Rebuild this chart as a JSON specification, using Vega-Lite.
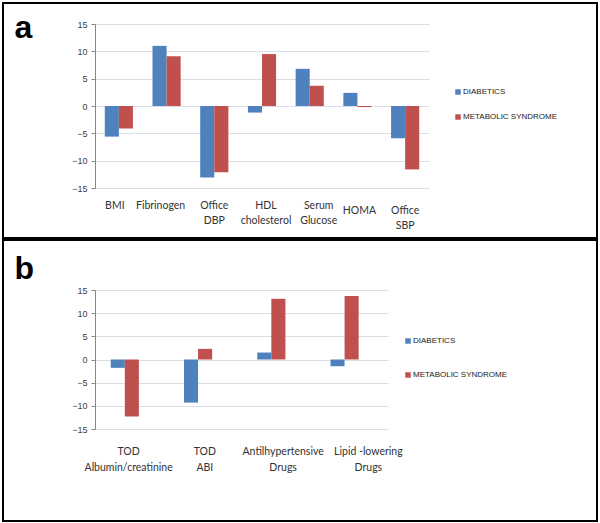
{
  "$schema": "https://vega.github.io/schema/vega-lite/v6.json",
  "padding": {"left": 2, "top": 2, "right": 2, "bottom": 2},
  "background": "white",
  "spacing": 0,
  "resolve": {"scale": {"color": "independent"}, "legend": {"color": "independent"}},
  "datasets": {
    "a": [
      {"category": "BMI", "group": "DIABETICS", "value": -5.6},
      {"category": "BMI", "group": "METABOLIC SYNDROME", "value": -4.1},
      {"category": "Fibrinogen", "group": "DIABETICS", "value": 11.0},
      {"category": "Fibrinogen", "group": "METABOLIC SYNDROME", "value": 9.1},
      {"category": "Office|DBP", "group": "DIABETICS", "value": -13.1},
      {"category": "Office|DBP", "group": "METABOLIC SYNDROME", "value": -12.1},
      {"category": "HDL|cholesterol", "group": "DIABETICS", "value": -1.2},
      {"category": "HDL|cholesterol", "group": "METABOLIC SYNDROME", "value": 9.5},
      {"category": "Serum|Glucose", "group": "DIABETICS", "value": 6.8},
      {"category": "Serum|Glucose", "group": "METABOLIC SYNDROME", "value": 3.7},
      {"category": "HOMA", "group": "DIABETICS", "value": 2.4},
      {"category": "HOMA", "group": "METABOLIC SYNDROME", "value": -0.2},
      {"category": "Office|SBP", "group": "DIABETICS", "value": -5.9},
      {"category": "Office|SBP", "group": "METABOLIC SYNDROME", "value": -11.6}
    ],
    "b": [
      {"category": "TOD|Albumin/creatinine", "group": "DIABETICS", "value": -1.8},
      {"category": "TOD|Albumin/creatinine", "group": "METABOLIC SYNDROME", "value": -12.3},
      {"category": "TOD|ABI", "group": "DIABETICS", "value": -9.3},
      {"category": "TOD|ABI", "group": "METABOLIC SYNDROME", "value": 2.3},
      {"category": "Antilhypertensive|Drugs", "group": "DIABETICS", "value": 1.5},
      {"category": "Antilhypertensive|Drugs", "group": "METABOLIC SYNDROME", "value": 13.1},
      {"category": "Lipid -lowering|Drugs", "group": "DIABETICS", "value": -1.45},
      {"category": "Lipid -lowering|Drugs", "group": "METABOLIC SYNDROME", "value": 13.7}
    ]
  },
  "vconcat": [
    {
      "width": 594,
      "height": 235,
      "data": {"name": "a"},
      "mark": {"type": "bar"},
      "encoding": {
        "x": {
          "field": "category", "type": "nominal", "sort": null,
          "scale": {"range": [92, 426], "paddingInner": 0.41, "paddingOuter": 0.205},
          "axis": {"orient": "bottom", "offset": -50, "domain": false, "ticks": false, "grid": false,
            "labelPadding": {"condition": [{"test": "datum.value == 'HOMA'", "value": 17}, {"test": "datum.value == 'Office|SBP'", "value": 17}], "value": 12},
            "labelOffset": {"condition": [{"test": "datum.value == 'BMI'", "value": -4}, {"test": "datum.value == 'Fibrinogen'", "value": -6}, {"test": "datum.value == 'HDL|cholesterol'", "value": 4}, {"test": "datum.value == 'Serum|Glucose'", "value": 9}, {"test": "datum.value == 'HOMA'", "value": 2}], "value": 0},
            "labelAngle": 0, "labelExpr": "split(datum.label, '|')", "labelFont": "Lato", "labelFontSize": 10.5, "labelLineHeight": 15, "labelColor": "#333333", "labelOverlap": false, "labelBaseline": "top", "title": null}
        },
        "xOffset": {"field": "group", "type": "nominal", "sort": null, "scale": {"paddingInner": 0, "paddingOuter": 0}},
        "y": {
          "field": "value", "type": "quantitative",
          "scale": {"domain": [-15, 15], "range": [185, 21], "nice": false},
          "axis": {"orient": "left", "offset": -92, "values": [-15, -10, -5, 0, 5, 10, 15], "grid": true, "gridColor": "#D9DEE8", "gridWidth": 1, "domainColor": "#868686", "tickColor": "#868686", "tickSize": 4, "labelFont": "Liberation Sans", "labelFontSize": 9, "labelColor": "#404040", "labelPadding": 4,
            "title": "a", "titleX": -81, "titleY": 34, "titleAngle": 0, "titleAlign": "left", "titleBaseline": "alphabetic", "titleFont": "Liberation Sans", "titleFontSize": 32, "titleFontWeight": "bold", "titleColor": "black"}
        },
        "color": {
          "field": "group", "type": "nominal",
          "scale": {"domain": ["DIABETICS", "METABOLIC SYNDROME"], "range": ["#4F81BD", "#C0504D"]},
          "legend": {"orient": "none", "legendX": 451, "legendY": 85, "title": null, "symbolType": "square", "symbolSize": 30, "symbolStrokeWidth": 0, "labelFont": "Liberation Sans", "labelFontSize": 8, "labelColor": "#222222", "labelOffset": 1, "rowPadding": 17}
        }
      }
    },
    {
      "width": 594,
      "height": 281,
      "data": {"name": "b"},
      "mark": {"type": "bar"},
      "encoding": {
        "x": {
          "field": "category", "type": "nominal", "sort": null,
          "scale": {"range": [92, 385], "paddingInner": 0.43, "paddingOuter": 0.215},
          "axis": {"orient": "bottom", "offset": -92, "domain": false, "ticks": false, "grid": false, "labelPadding": 17,
            "labelOffset": {"condition": [{"test": "datum.value == 'TOD|Albumin/creatinine'", "value": -3}, {"test": "datum.value == 'Antilhypertensive|Drugs'", "value": 5}, {"test": "datum.value == 'Lipid -lowering|Drugs'", "value": 17}], "value": 0},
            "labelAngle": 0, "labelExpr": "split(datum.label, '|')", "labelFont": "Lato", "labelFontSize": 10.5, "labelLineHeight": 16, "labelColor": "#333333", "labelOverlap": false, "labelBaseline": "top", "title": null}
        },
        "xOffset": {"field": "group", "type": "nominal", "sort": null, "scale": {"paddingInner": 0, "paddingOuter": 0}},
        "y": {
          "field": "value", "type": "quantitative",
          "scale": {"domain": [-15, 15], "range": [189, 50], "nice": false},
          "axis": {"orient": "left", "offset": -92, "values": [-15, -10, -5, 0, 5, 10, 15], "grid": true, "gridColor": "#D9DEE8", "gridWidth": 1, "domainColor": "#868686", "tickColor": "#868686", "tickSize": 4, "labelFont": "Liberation Sans", "labelFontSize": 9, "labelColor": "#404040", "labelPadding": 4,
            "title": "b", "titleX": -81, "titleY": 38, "titleAngle": 0, "titleAlign": "left", "titleBaseline": "alphabetic", "titleFont": "Liberation Sans", "titleFontSize": 32, "titleFontWeight": "bold", "titleColor": "black"}
        },
        "color": {
          "field": "group", "type": "nominal",
          "scale": {"domain": ["DIABETICS", "METABOLIC SYNDROME"], "range": ["#4F81BD", "#C0504D"]},
          "legend": {"orient": "none", "legendX": 401, "legendY": 97, "title": null, "symbolType": "square", "symbolSize": 30, "symbolStrokeWidth": 0, "labelFont": "Liberation Sans", "labelFontSize": 8, "labelColor": "#222222", "labelOffset": 1, "rowPadding": 26}
        }
      }
    }
  ],
  "config": {
    "view": {"stroke": "black", "strokeWidth": 2},
    "concat": {"spacing": 0}
  }
}
